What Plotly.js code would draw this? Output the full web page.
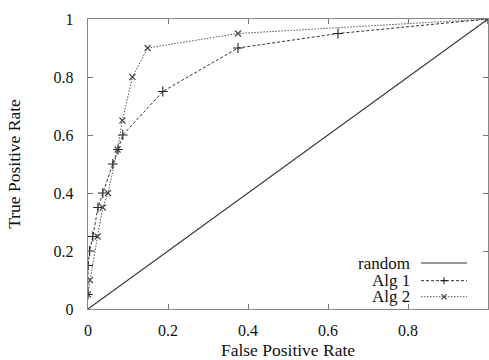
<!DOCTYPE html>
<html>
<head>
<meta charset="utf-8">
<script src="https://cdn.plot.ly/plotly-3.0.1.min.js"></script>
<style>
html,body{margin:0;padding:0;background:#fff}
#chart{width:489px;height:360px}
</style>
</head>
<body>
<div id="chart"></div>
<script>
// Data
const seriesNames = ["random", "Alg 1", "Alg 2"];
const randomX = [0, 1];
const randomY = [0, 1];
const alg1X = [0, 0, 0.004, 0.012, 0.025, 0.037, 0.062, 0.075, 0.087, 0.187, 0.375, 0.625, 1];
const alg1Y = [0.05, 0.15, 0.2, 0.25, 0.35, 0.4, 0.5, 0.55, 0.6, 0.75, 0.9, 0.95, 1];
const alg2X = [0, 0.005, 0.024, 0.037, 0.05, 0.074, 0.086, 0.111, 0.149, 0.375, 1];
const alg2Y = [0.05, 0.1, 0.25, 0.35, 0.4, 0.55, 0.65, 0.8, 0.9, 0.95, 1];
const tickVals = [0, 0.2, 0.4, 0.6, 0.8, 1];
const tickText = ["0", "0.2", "0.4", "0.6", "0.8", "1"];

const FONT = "Liberation Serif";
const ink = "#222";

const traces = [
  {x: randomX, y: randomY, mode: "lines", name: seriesNames[0],
   line: {color: "#333", width: 1.1}},
  {x: alg1X, y: alg1Y, mode: "lines+markers", name: seriesNames[1],
   line: {color: "#333", width: 1, dash: "3px,2px"},
   marker: {symbol: "cross-thin-open", size: 7, color: ink, line: {color: ink, width: 1.1}}},
  {x: alg2X, y: alg2Y, mode: "lines+markers", name: seriesNames[2],
   line: {color: "#555", width: 1, dash: "1.5px,1.5px"},
   marker: {symbol: "x-thin-open", size: 6, color: "#444", line: {color: "#444", width: 1.1}}}
];

// Legend drawn manually (text left of the sample, like the reference)
const plotW = 400, plotH = 290;
const legY = [0.1586, 0.0977, 0.0425];
const legTextX = 0.808, legL0 = 0.8325, legL1 = 0.9475, legM = 0.89;
const dashes = ["solid", "3px,2px", "1.5px,1.5px"];
const shapes = [];
const annotations = [];
seriesNames.forEach((n, i) => {
  annotations.push({xref: "paper", yref: "paper", x: legTextX, y: legY[i], xanchor: "right", yanchor: "middle",
    text: n, showarrow: false, borderpad: 0, font: {family: FONT, size: 17, color: "#111"}});
  shapes.push({type: "line", xref: "paper", yref: "paper", x0: legL0, x1: legL1, y0: legY[i], y1: legY[i],
    line: {color: i === 2 ? "#555" : "#333", width: 1, dash: dashes[i]}});
});
const hx = 3.5 / plotW, hy = 3.5 / plotH;
const hx2 = 2.6 / plotW, hy2 = 2.6 / plotH;
shapes.push({type: "path", xref: "paper", yref: "paper",
  path: `M${legM - hx},${legY[1]} L${legM + hx},${legY[1]} M${legM},${legY[1] - hy} L${legM},${legY[1] + hy}`,
  line: {color: ink, width: 1.1}});
shapes.push({type: "path", xref: "paper", yref: "paper",
  path: `M${legM - hx2},${legY[2] - hy2} L${legM + hx2},${legY[2] + hy2} M${legM - hx2},${legY[2] + hy2} L${legM + hx2},${legY[2] - hy2}`,
  line: {color: "#444", width: 1.1}});

function axis(standoff, titleText, titleStandoff) {
  return {
    range: [0, 1], tickvals: tickVals.slice(), ticktext: tickText.slice(),
    ticks: "inside", ticklen: 5, tickcolor: "#777", tickwidth: 1,
    showline: true, linecolor: "#888", linewidth: 1.2, mirror: "allticks",
    showgrid: false, zeroline: false,
    tickfont: {family: FONT, size: 16, color: "#111"},
    ticklabelstandoff: standoff,
    title: {text: titleText, font: {family: FONT, size: 17.5, color: "#111"}, standoff: titleStandoff}
  };
}

const layout = {
  width: 489, height: 360,
  margin: {l: 88, r: 1, t: 19, b: 51},
  paper_bgcolor: "#fff", plot_bgcolor: "#fff",
  showlegend: false,
  xaxis: axis(7, "False Positive Rate", 6),
  yaxis: axis(10, "True Positive Rate", 28),
  shapes: shapes,
  annotations: annotations
};

Plotly.newPlot("chart", traces, layout, {staticPlot: true, displayModeBar: false});
</script>
</body>
</html>
